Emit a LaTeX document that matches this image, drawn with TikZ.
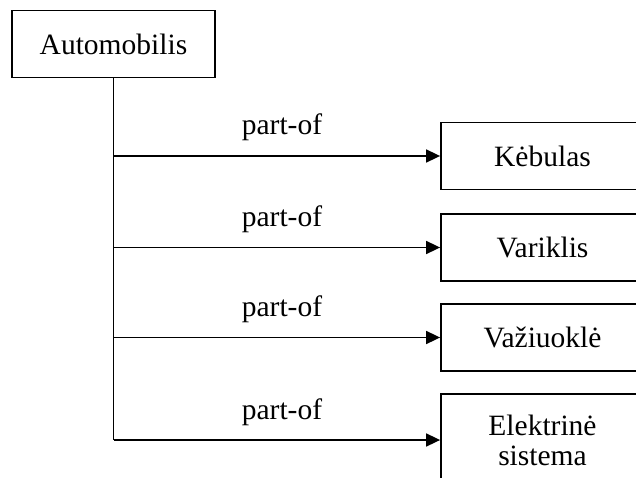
\documentclass[tikz,border=0pt]{standalone}
\usepackage{fontspec}
\setmainfont{Liberation Serif}
\usetikzlibrary{arrows.meta}
\begin{document}
\begin{tikzpicture}[x=1pt,y=-1pt,
  box/.style={draw, line width=1.8pt, minimum width=203pt, minimum height=67pt,
    inner sep=0pt, align=center, font=\fontsize{29.5}{30}\selectfont},
  link/.style={line width=1.7pt},
  partarrow/.style={link, -{Triangle[length=14pt,width=13pt]}},
  lbl/.style={anchor=base, inner sep=0pt, font=\fontsize{29.5}{30}\selectfont}]
  \useasboundingbox (0,0) rectangle (636,478);
  \fill[white] (0,0) rectangle (636,478);
  \clip (0,0) rectangle (636,478);

  % whole and its parts
  \node[box] (auto) at (113.5,44) {Automobilis};
  \node[box] (kb) at (542.5,156) {Kėbulas};
  \node[box] (var) at (542.5,247.5) {Variklis};
  \node[box] (vaz) at (542.5,337.5) {Važiuoklė};
  \node[box, minimum height=92pt] (el) at (542.5,440) {Elektrinė\\[0pt]sistema};

  % trunk line
  \draw[link] (auto.south) -- (auto.south |- el.west);

  % branches with labels
  \foreach \p in {kb,var,vaz,el}{
    \draw[partarrow] (auto.south |- \p.west) -- (\p.west);
    \node[lbl] at ([yshift=21pt]282,0 |- \p.west) {part-of};
  }
\end{tikzpicture}
\end{document}
